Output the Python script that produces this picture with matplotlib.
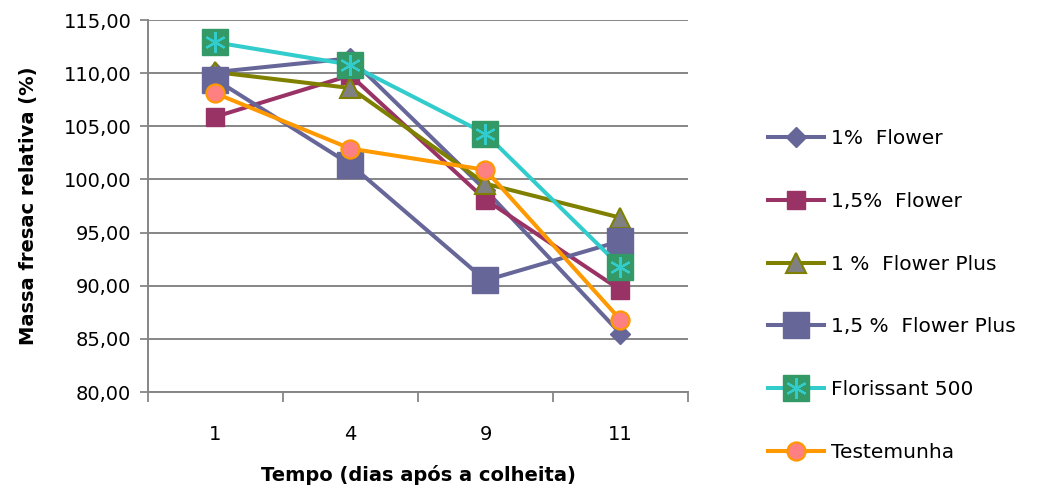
import matplotlib
matplotlib.use("Agg")
import matplotlib.pyplot as plt
from matplotlib.legend_handler import HandlerTuple

# -----------------------------
# Data
# -----------------------------
dias = ["1", "4", "9", "11"]

flower_1 = [110.1, 111.4, 99.0, 85.5]
flower_15 = [105.9, 109.8, 98.1, 89.6]
flower_plus_1 = [110.1, 108.6, 99.6, 96.4]
flower_plus_15 = [109.4, 101.4, 90.5, 94.2]
florissant = [112.9, 110.8, 104.3, 91.8]
testemunha = [108.1, 102.9, 100.9, 86.8]

y_ticks = [80, 85, 90, 95, 100, 105, 110, 115]

plt.rcParams["font.family"] = ["DejaVu Sans"]

fig = plt.figure(figsize=(10.4, 4.88), dpi=100)
ax = fig.add_axes([0.1423, 0.1967, 0.5192, 0.7623])

x = list(range(len(dias)))
grid_color = "#868686"

# -----------------------------
# Series
# -----------------------------
h1, = ax.plot(x, flower_1, color="#666699", lw=2.9, marker="D", ms=10,
              mfc="#666699", mec="#666699", label="1%  Flower", zorder=3)
h2, = ax.plot(x, flower_15, color="#993366", lw=2.9, marker="s", ms=13.5,
              mfc="#993366", mec="#993366", label="1,5%  Flower", zorder=4)
h3, = ax.plot(x, flower_plus_1, color="#808000", lw=2.9, marker="^", ms=15,
              mfc="#808080", mec="#808000", mew=1.5, label="1 %  Flower Plus", zorder=5)
h4, = ax.plot(x, flower_plus_15, color="#666699", lw=2.9, marker="s", ms=19,
              mfc="#666699", mec="#666699", label="1,5 %  Flower Plus", zorder=6)
h5, = ax.plot(x, florissant, color="#33CCCC", lw=2.9, marker="s", ms=19,
              mfc="#339966", mec="#339966", label="Florissant 500", zorder=7)
h5b, = ax.plot(x, florissant, lw=0, marker=(6, 2, 0), ms=15,
               mec="#33CCCC", mew=1.6, zorder=7.5)
h6, = ax.plot(x, testemunha, color="#FF9900", lw=2.9, marker="o", ms=13,
              mfc="#FF8080", mec="#FF9900", mew=1.6, label="Testemunha", zorder=8)

# -----------------------------
# Axes styling
# -----------------------------
ax.set_xlim(-0.5, len(dias) - 0.5)
ax.set_ylim(80, 115)
ax.set_yticks(y_ticks)
ax.set_yticklabels([f"{v:.2f}".replace(".", ",") for v in y_ticks], fontsize=14)
ax.set_xticks(x)
ax.set_xticklabels(dias, fontsize=14)
ax.set_xticks([i + 0.5 for i in range(-1, len(dias))], minor=True)
ax.tick_params(axis="x", which="major", length=0, pad=24)
ax.tick_params(axis="x", which="minor", length=7, width=1.3, color=grid_color)
ax.tick_params(axis="y", length=6, width=1.3, color=grid_color, pad=6)

ax.grid(axis="y", color=grid_color, lw=1.4)
ax.set_axisbelow(True)
for side in ["top", "right"]:
    ax.spines[side].set_visible(False)
for side in ["left", "bottom"]:
    ax.spines[side].set_color(grid_color)
    ax.spines[side].set_linewidth(1.4)

ax.set_ylabel("Massa fresac relativa (%)", fontsize=14, fontweight="bold", labelpad=18)
ax.set_xlabel("Tempo (dias após a colheita)", fontsize=14, fontweight="bold", labelpad=15)

# -----------------------------
# Legend
# -----------------------------
leg = fig.legend([h1, h2, h3, h4, (h5, h5b), h6],
                 [h1.get_label(), h2.get_label(), h3.get_label(),
                  h4.get_label(), h5.get_label(), h6.get_label()],
                 handler_map={tuple: HandlerTuple(ndivide=1)},
                 loc="upper left", bbox_to_anchor=(0.738, 0.735),
                 frameon=False, fontsize=14.5, labelspacing=2.17,
                 handlelength=2.8, handletextpad=0.35, borderpad=0, borderaxespad=0)

plt.savefig("out.png", dpi=100)
